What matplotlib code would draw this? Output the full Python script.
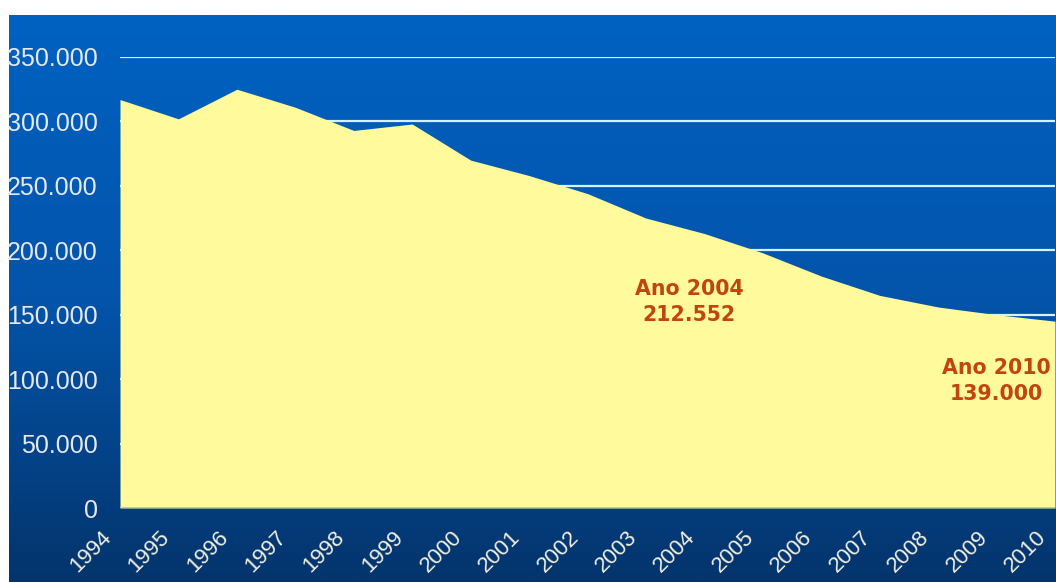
import matplotlib.pyplot as plt
import numpy as np
from matplotlib.colors import to_rgb
from matplotlib.transforms import ScaledTranslation

# data
years = ['1994', '1995', '1996', '1997', '1998', '1999', '2000', '2001', '2002',
         '2003', '2004', '2005', '2006', '2007', '2008', '2009', '2010']
values = [317000, 302000, 325000, 311000, 293000, 298000, 270000, 258000, 244000,
          225000, 213000, 198000, 180000, 165000, 156000, 150000, 145000]
y_ticks = [0, 50000, 100000, 150000, 200000, 250000, 300000, 350000]
notes = [(9.74, 160000, 'Ano 2004\n212.552'), (14.99, 98500, 'Ano 2010\n139.000')]


def dotted_thousands(v, pos=None):
    # 350000 -> "350.000"
    return '{:,.0f}'.format(v).replace(',', '.')


W, H = 1056, 582
fig = plt.figure(figsize=(W / 100, H / 100), dpi=100)
fig.patch.set_facecolor('white')

# blue gradient backdrop (white strip on the top and left like the slide)
bg = fig.add_axes([9 / W, 0, 1 - 9 / W, (H - 15) / H])
top_c, mid_c, bot_c = np.array(to_rgb('#0062c2')), np.array(to_rgb('#0454aa')), np.array(to_rgb('#03346c'))
t = np.linspace(0, 1, 300)[:, None]
grad = np.where(t < 0.5, top_c + (mid_c - top_c) * (t / 0.5), mid_c + (bot_c - mid_c) * ((t - 0.5) / 0.5))
bg.imshow(grad[:, None, :], aspect='auto', extent=[0, 1, 0, 1])
bg.set_xlim(0, 1)
bg.set_ylim(0, 1)
bg.axis('off')

# chart area
ax = fig.add_axes([120 / W, (H - 508) / H, (1055 - 120) / W, (508 - 57) / H])
ax.set_facecolor('none')
x = np.arange(len(years))
ax.fill_between(x, values, 0, color='#fffb9c', lw=0, zorder=3)
ax.axhline(0, color='#b9c0a8', lw=1.2, zorder=4)

ax.set_xlim(0, len(years) - 1)
ax.set_ylim(0, 350000)
ax.set_yticks(y_ticks)
ax.set_yticklabels([dotted_thousands(v) for v in y_ticks])
ax.set_axisbelow(True)
ax.yaxis.grid(True, color='#d4f2ff', lw=1.6)
for s in ax.spines.values():
    s.set_visible(False)

ax.set_xticks(x)
ax.set_xticklabels(years)
ax.tick_params(axis='y', length=0, pad=16, labelsize=18, labelcolor='#e6e9ee')
ax.tick_params(axis='x', length=0, pad=19, labelsize=16, labelcolor='#f2f0e0')
for lbl in ax.get_yticklabels():
    lbl.set_family(['Liberation Sans', 'DejaVu Sans'])
shift = ScaledTranslation(-0.12, 0, fig.dpi_scale_trans)
for lbl in ax.get_xticklabels():
    lbl.set_family(['Liberation Sans', 'DejaVu Sans'])
    lbl.set_rotation(45)
    lbl.set_ha('right')
    lbl.set_va('center')
    lbl.set_rotation_mode('anchor')
    lbl.set_transform(lbl.get_transform() + shift)

for nx, ny, txt in notes:
    ax.text(nx, ny, txt, ha='center', va='center', multialignment='center',
            fontsize=14.8, fontweight='bold', color='#c0450e',
            family='DejaVu Sans', linespacing=1.35, zorder=5)

fig.savefig('out.png', dpi=100)
